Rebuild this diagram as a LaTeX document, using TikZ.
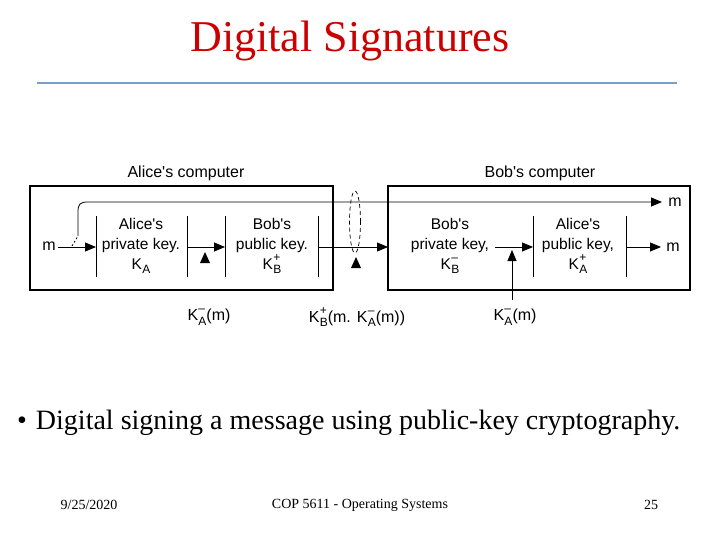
\documentclass[tikz,border=0pt]{standalone}
\usepackage{fontspec}
\setmainfont{Liberation Serif}
\newfontfamily\arial{Liberation Sans}
\usetikzlibrary{arrows.meta,shapes.geometric}
\definecolor{titlered}{RGB}{204,0,0}
\definecolor{rulebl}{RGB}{120,160,200}
\newcommand\KK[2]{K\kern.3pt\rlap{\raisebox{.5em}{\fontsize{12}{12}\selectfont #2}}\raisebox{-.3em}{\fontsize{12}{12}\selectfont #1}}
\begin{document}
\begin{tikzpicture}[x=1pt,y=-1pt,
  box/.style={draw,line width=2.2pt},
  lbl/.style={font=\arial\fontsize{16}{16}\selectfont,inner sep=0pt},
  keytxt/.style={font=\arial\fontsize{15.5}{20}\selectfont,align=center,inner sep=0pt},
  div/.style={line width=0.8pt},
  arr/.style={line width=0.8pt,-{Triangle[length=11pt,width=9pt]}},
  tri/.style={fill=black,draw=none}]
\useasboundingbox (0,0) rectangle (720,540);
\node (title) [text=titlered,font=\fontsize{44}{44}\selectfont,inner sep=0pt] at (350,41) {Digital Signatures};
\coordinate (rl) at (37,83);
\coordinate (rr) at (677,83);
\draw[rulebl,line width=2pt] (rl) -- (rr);
% boxes
\node (abox) [box,minimum width=303pt,minimum height=104pt,inner sep=0pt] at (181.5,238) {};
\node (bbox) [box,minimum width=302pt,minimum height=104pt,inner sep=0pt] at (539,238) {};
\node (acomp) [lbl] at (186,173) {Alice's computer};
\node (bcomp) [lbl] at (540,173) {Bob's computer};
% dividers
\foreach \x/\n in {96/d1,187/d2,225/d3,318/d4,533/d5,626/d6}{
  \coordinate (\n t) at (\x,216);
  \coordinate (\n b) at (\x,277);
  \draw[div] (\n t) -- (\n b);
}
\coordinate (d7) at (388,247);
% key texts
\node (k1) [keytxt] at (141,246) {Alice's\\private key.\\\KK{A}{}};
\node (k2) [keytxt] at (272,246) {Bob's\\public key.\\\KK{B}{+}};
\node (k3) [keytxt] at (450,246) {Bob's\\private key,\\\KK{B}{–}};
\node (k4) [keytxt] at (578,246) {Alice's\\public key,\\\KK{A}{+}};
% m labels
\node (m1) [lbl] at (49,246) {m};
\node (m2) [lbl] at (675,202) {m};
\node (m3) [lbl] at (673,247) {m};
% arrows
\coordinate (a1e) at (96,247);
\draw[arr] (m1.east) ++(2,1) -- (a1e);
\coordinate (a2s) at (187,247);
\coordinate (a2e) at (225,247);
\draw[arr] (a2s) -- (a2e);
\coordinate (a3s) at (318,247);
\draw[arr] (a3s) -- (d7);
\coordinate (a4s) at (495,247);
\coordinate (a4e) at (533,247);
\draw[arr] (a4s) -- (a4e);
\coordinate (a5s) at (626,247);
\coordinate (a5e) at (661,247);
\draw[arr] (a5s) -- (a5e);
% top path
\coordinate (tp0) at (72,246);
\coordinate (tp1) at (78,236);
\coordinate (tpe) at (662,202);
\draw[div,dashed,dash pattern=on 2pt off 2pt] (tp0) -- (tp1);
\draw[arr] (tp1) -- (78,212) .. controls (78,204) and (80,202) .. (88,202) -- (tpe);
% dashed loop
\node (loop) [draw,dashed,dash pattern=on 4pt off 3pt,line width=0.7pt,ellipse,minimum width=11pt,minimum height=62pt,inner sep=0pt] at (355,222) {};
% up triangles
\fill[tri] (205,252) -- (210,263) -- (200,263) -- cycle;
\fill[tri] (356,257) -- (361,268) -- (351,268) -- cycle;
% arrow from below
\coordinate (ub) at (512,300);
\coordinate (ut) at (512,250);
\draw[arr] (ub) -- (ut);
% bottom labels
\node (l1) [lbl] at (209,317) {\KK{A}{–}(m)};
\node (l2) [lbl] at (357,317) {\KK{B}{+}(m. \KK{A}{–}(m))};
\node (l3) [lbl] at (515,317) {\KK{A}{–}(m)};
% bullet
\node (bul) [anchor=west,font=\fontsize{28}{28}\selectfont,inner sep=0pt] at (17,423) {•\hspace{9pt}Digital signing a message using public-key cryptography.};
% footer
\node (f1) [font=\fontsize{14}{14}\selectfont,inner sep=0pt] at (89,505) {9/25/2020};
\node (f2) [font=\fontsize{14}{14}\selectfont,inner sep=0pt] at (360,505) {COP 5611 - Operating Systems};
\node (f3) [font=\fontsize{14}{14}\selectfont,inner sep=0pt] at (651,505) {25};
\end{tikzpicture}
\end{document}
